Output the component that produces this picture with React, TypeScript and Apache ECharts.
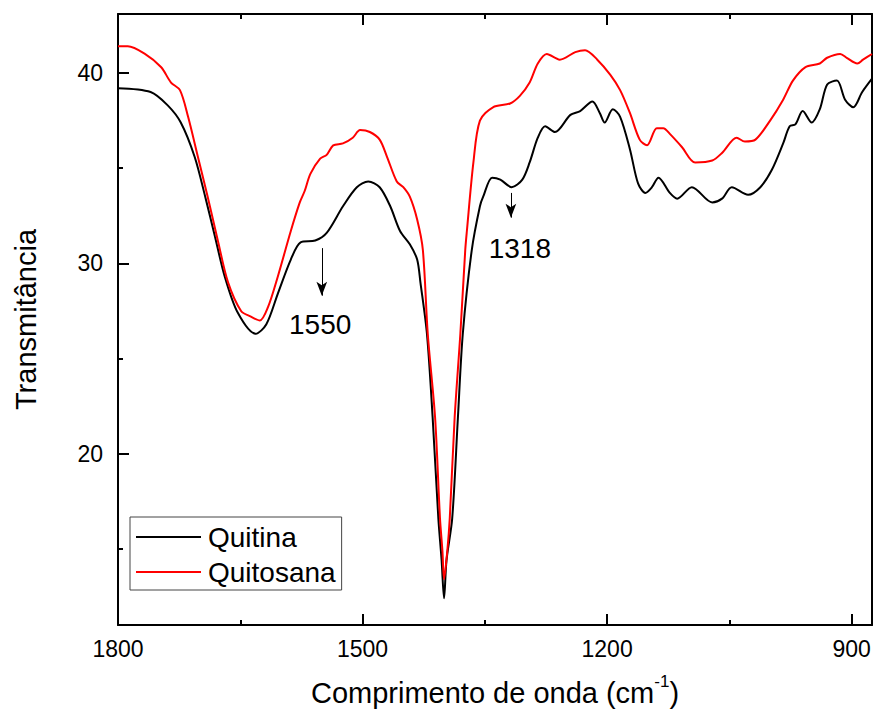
import React, { useEffect, useRef } from "react";
import * as echarts from "echarts";

const quitinaX = [1800,1760,1739,1723,1706,1693,1681,1669,1653,1631,1618,1604,1588,1576,1558,1544,1524,1507,1493,1479,1466,1454,1442,1433,1429,1421,1414,1407,1403,1400,1397,1390,1383,1377,1366,1356,1352,1341,1331,1317,1304,1295,1285,1276,1264,1245,1233,1218,1209,1203,1193,1184,1172,1162,1153,1145,1137,1123,1114,1096,1071,1059,1047,1027,1012,998,984,976,969,960,949,939,930,918,908,898,887,875];
const quitinaY = [39.2,39.0,38.3,37.4,35.6,33.5,31.4,29.3,27.4,26.3,26.8,28.4,30.2,31.1,31.2,31.6,33.0,34.0,34.3,34.0,33.0,31.7,31.0,30.2,29.0,26.3,21.9,16.6,14.4,12.4,14.4,16.6,21.9,26.3,30.7,33.0,33.5,34.5,34.4,34.0,34.4,35.3,36.6,37.2,36.9,37.8,38.0,38.5,37.9,37.4,38.1,37.7,36.0,34.2,33.7,34.0,34.5,33.7,33.4,34.0,33.2,33.4,34.0,33.6,34.0,34.9,36.3,37.2,37.3,38.0,37.4,38.1,39.4,39.6,38.6,38.2,39.0,39.7];

const quitosanaX = [1800,1788,1767,1747,1735,1724,1714,1702,1690,1677,1665,1649,1637,1626,1616,1604,1588,1577,1571,1564,1552,1544,1536,1524,1512,1503,1491,1479,1470,1458,1450,1442,1433,1426,1420,1411,1405,1402,1400,1396,1393,1387,1380,1374,1372,1364,1356,1340,1319,1307,1295,1285,1274,1258,1239,1227,1212,1196,1184,1172,1160,1151,1139,1131,1123,1108,1092,1071,1059,1041,1031,1018,1000,984,972,957,939,930,914,906,893,886,875];
const quitosanaY = [41.4,41.4,41.0,40.3,39.5,39.1,37.7,35.6,33.5,31.1,29.0,27.5,27.2,27.0,27.7,29.3,31.7,33.2,33.8,34.7,35.5,35.7,36.2,36.3,36.6,37.0,36.9,36.5,35.6,34.3,34.0,33.5,32.3,30.7,26.3,21.9,16.6,14.9,13.4,14.9,16.6,21.9,26.3,30.7,31.7,35.3,37.5,38.2,38.4,38.8,39.5,40.5,41.0,40.7,41.1,41.2,40.7,39.9,39.1,37.9,36.5,36.2,37.1,37.1,36.8,36.1,35.3,35.4,35.8,36.6,36.4,36.5,37.5,38.6,39.6,40.3,40.5,40.8,41.0,40.8,40.5,40.7,41.0];

const xMajorTicks = [1800, 1500, 1200, 900];
const xMinorTicks = [1650, 1350, 1050];
const yMajorTicks = [20, 30, 40];
const yMinorTicks = [15, 25, 35];

const peakLabels = ["1550", "1318"];
const peakArrowX = [1550, 1318];
const peakArrowFrom = [30.8, 33.7];
const peakArrowTo = [28.3, 32.4];
const peakLabelX = [1552, 1307];
const peakLabelY = [26.8, 30.8];

const seriesNames = ["Quitina", "Quitosana"];
const seriesColors = ["#000000", "#ff0000"];

const FONT = "'Liberation Sans', Arial, sans-serif";
const X_MIN = 875;
const X_MAX = 1800;
const Y_MIN = 11;
const Y_MAX = 43.1;

export default function App() {
  const ref = useRef<HTMLDivElement>(null);
  useEffect(() => {
    if (!ref.current) return;
    const chart = echarts.init(ref.current, undefined, { renderer: "svg" });
    const baseX = {
      type: "value" as const,
      min: X_MIN,
      max: X_MAX,
      inverse: true,
      splitLine: { show: false },
    };
    const baseY = {
      type: "value" as const,
      min: Y_MIN,
      max: Y_MAX,
      splitLine: { show: false },
    };
    const blackLine = { color: "#000", width: 2 };
    const plain = (v: number) => String(v);
    chart.setOption({
      animation: false,
      backgroundColor: "#fff",
      grid: { left: 118, right: 2, top: 14, bottom: 90 },
      legend: {
        orient: "vertical",
        left: 130,
        top: 517,
        data: seriesNames.map((n) => ({ name: n, icon: "rect" })),
        itemWidth: 65,
        itemHeight: 2,
        itemGap: 5,
        borderColor: "#444",
        borderWidth: 1,
        borderRadius: 0,
        padding: [5, 6, 3, 6],
        textStyle: { fontSize: 28, color: "#000", fontFamily: FONT, lineHeight: 30, padding: [0, 0, 0, 2] },
      },
      xAxis: [
        {
          ...baseX,
          position: "bottom",
          axisLine: { show: true, lineStyle: blackLine },
          axisTick: { show: true, inside: true, length: 11, customValues: xMajorTicks, lineStyle: blackLine },
          axisLabel: { customValues: xMajorTicks, formatter: plain, fontSize: 23, color: "#000", fontFamily: FONT, margin: 12 },
          name: "{a|Comprimento de onda (cm}{s|-1}{a|)}",
          nameLocation: "middle",
          nameGap: 48,
          nameTextStyle: {
            rich: {
              a: { fontSize: 29, color: "#000", fontFamily: FONT, lineHeight: 34, verticalAlign: "bottom" },
              s: { fontSize: 17, color: "#000", fontFamily: FONT, lineHeight: 34, verticalAlign: "top" },
            },
          },
        },
        {
          ...baseX,
          position: "bottom",
          axisLine: { show: false },
          axisTick: { show: true, inside: true, length: 5, customValues: xMinorTicks, lineStyle: blackLine },
          axisLabel: { show: false },
        },
        {
          ...baseX,
          position: "top",
          axisLine: { show: true, lineStyle: blackLine },
          axisTick: { show: true, inside: true, length: 11, customValues: xMajorTicks, lineStyle: blackLine },
          axisLabel: { show: false },
        },
        {
          ...baseX,
          position: "top",
          axisLine: { show: false },
          axisTick: { show: true, inside: true, length: 5, customValues: xMinorTicks, lineStyle: blackLine },
          axisLabel: { show: false },
        },
      ],
      yAxis: [
        {
          ...baseY,
          position: "left",
          axisLine: { show: true, lineStyle: blackLine },
          axisTick: { show: true, inside: true, length: 11, customValues: yMajorTicks, lineStyle: blackLine },
          axisLabel: { customValues: yMajorTicks, formatter: plain, fontSize: 23, color: "#000", fontFamily: FONT, margin: 15 },
          name: "Transmitância",
          nameLocation: "middle",
          nameGap: 78,
          nameTextStyle: { fontSize: 29, color: "#000", fontFamily: FONT },
        },
        {
          ...baseY,
          position: "left",
          axisLine: { show: false },
          axisTick: { show: true, inside: true, length: 5, customValues: yMinorTicks, lineStyle: blackLine },
          axisLabel: { show: false },
        },
        {
          ...baseY,
          position: "right",
          axisLine: { show: true, lineStyle: blackLine },
          axisTick: { show: false },
          axisLabel: { show: false },
        },
      ],
      series: [
        {
          name: seriesNames[0],
          type: "line",
          xAxisIndex: 0,
          yAxisIndex: 0,
          data: quitinaX.map((x, i) => [x, quitinaY[i]]),
          symbol: "none",
          smooth: 0.3,
          lineStyle: { color: seriesColors[0], width: 2 },
          itemStyle: { color: seriesColors[0] },
          markLine: {
            silent: true,
            symbol: ["none", "arrow"],
            symbolSize: [8, 14],
            lineStyle: { color: "#000", width: 1, type: "solid" },
            label: { show: false },
            data: peakArrowX.map((x, i) => [
              { coord: [x, peakArrowFrom[i]] },
              { coord: [x, peakArrowTo[i]] },
            ]),
          },
          markPoint: {
            silent: true,
            symbol: "circle",
            symbolSize: 0,
            data: peakLabels.map((t, i) => ({
              name: t,
              coord: [peakLabelX[i], peakLabelY[i]],
              label: {
                show: true,
                position: "inside",
                formatter: t,
                fontSize: 28,
                color: "#000",
                fontFamily: FONT,
              },
            })),
          },
        },
        {
          name: seriesNames[1],
          type: "line",
          xAxisIndex: 0,
          yAxisIndex: 0,
          data: quitosanaX.map((x, i) => [x, quitosanaY[i]]),
          symbol: "none",
          smooth: 0.3,
          lineStyle: { color: seriesColors[1], width: 2 },
          itemStyle: { color: seriesColors[1] },
        },
      ],
    });
    return () => chart.dispose();
  }, []);
  return (
    <div
      ref={ref}
      style={{ position: "fixed", left: 0, top: 0, width: 874, height: 715, background: "#fff" }}
    />
  );
}
